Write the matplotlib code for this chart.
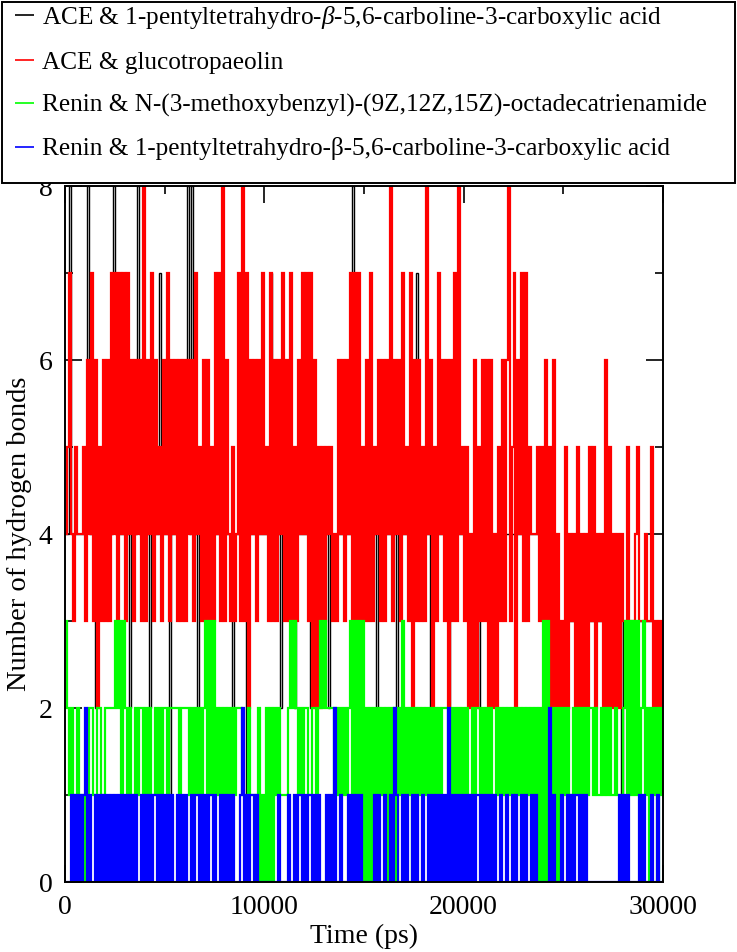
import numpy as np
import matplotlib
matplotlib.use("Agg")
import matplotlib.pyplot as plt
from matplotlib.ticker import MultipleLocator
from matplotlib.patches import Rectangle

plt.rcParams['font.family'] = ['Liberation Serif', 'DejaVu Serif']
plt.rcParams['mathtext.fontset'] = 'custom'
plt.rcParams['mathtext.rm'] = 'Liberation Serif'
plt.rcParams['mathtext.it'] = 'Liberation Serif:italic'

# ---- data: hydrogen-bond counts sampled every 100 ps (0 .. 30000 ps) ----
frame_step_ps = 100

ace_pentyl = (
    "4484444444" "4844424444" "4444844444" "4424448444" "4424444744"
    "4414444444" "4848442444" "4444444444" "4444244444" "4144444444"
    "4447444424" "4444424444" "4442444444" "4424444444" "4444844444"
    "4444442444" "4444442444" "4444447444" "4442444444" "4424444444"
    "4444444244" "4444444444" "4444444444" "4444444444" "4444433333"
    "3333333333" "3333333333" "3333333331" "3333333333" "3333333333" "3"
)

ace_glucotropaeolin = (
    "4574354445" "3647362536" "3637473747" "3746364638" "3647364536"
    "4736463636" "3646374536" "3635374738" "3643534738" "3726463647"
    "4537363647" "3637353647" "4737262525" "3545343646" "3647373735"
    "3637354636" "3648364637" "4537263635" "3846253746" "3626373845"
    "3524262536" "3626242536" "3683572647" "3735444535" "3635262423"
    "2524342524" "2425352434" "2625242424" "3353334533" "3433523232" "3"
)

renin_methoxybenzyl = (
    "3212012110" "1122112211" "2222232313" "2121121221" "2121121212"
    "2122222122" "2212121212" "3131312121" "2121212221" "1121111201"
    "0202021211" "1123232121" "2211221232" "3222212121" "2123131313"
    "0202021212" "1202120213" "1212021212" "1212121212" "2212121212"
    "1211212212" "1212112121" "2121212121" "2121212020" "3031202021"
    "2121121212" "1212212112" "1212112111" "2313131312" "3120212021" "2"
)

renin_pentyl = (
    "0001010101" "2010010101" "0101010101" "0101010010" "1010110101"
    "0101001010" "1001011010" "1011010010" "1010100012" "0101101000"
    "0000000100" "0010010110" "1011010100" "0101020010" "0010101010"
    "0000010100" "1001021001" "0100101001" "0010101010" "1020101010"
    "1010101101" "0101010010" "0100101001" "0100101000" "0002010001"
    "0010101101" "0100000000" "0000000010" "1010000010" "1000100100" "0"
)

series_labels = [
    "ACE & 1-pentyltetrahydro-$\\mathit{\\beta}$-5,6-carboline-3-carboxylic acid",
    "ACE & glucotropaeolin",
    "Renin & N-(3-methoxybenzyl)-(9Z,12Z,15Z)-octadecatrienamide",
    "Renin & 1-pentyltetrahydro-\u03b2-5,6-carboline-3-carboxylic acid",
]
series_data = [ace_pentyl, ace_glucotropaeolin, renin_methoxybenzyl, renin_pentyl]
series_colors = ["#000000", "#ff0000", "#00ff00", "#0000ff"]
series_widths = [1.0, 1.6, 1.6, 1.6]

x_ticks = [0, 10000, 20000, 30000]
y_ticks = [0, 2, 4, 6, 8]

# ---- figure ----
W, H = 737, 952
fig = plt.figure(figsize=(W / 100, H / 100), dpi=100)
ax = fig.add_axes([65 / W, (H - 882) / H, 598 / W, 696 / H])

lines = []
for s, c, lw, lab in zip(series_data, series_colors, series_widths, series_labels):
    vals = np.array([int(ch) for ch in s], dtype=float)
    t = np.arange(len(vals)) * frame_step_ps
    ln, = ax.plot(t, vals, color=c, lw=lw, label=lab, drawstyle='steps-post',
                  solid_joinstyle='miter', solid_capstyle='butt')
    lines.append(ln)

ax.set_xlim(0, 30000)
ax.set_ylim(0, 8)
ax.set_xticks(x_ticks)
ax.set_yticks(y_ticks)
ax.xaxis.set_minor_locator(MultipleLocator(5000))
ax.yaxis.set_minor_locator(MultipleLocator(1))
ax.tick_params(which='both', direction='in', top=True, right=True,
               width=1.2, labelsize=20, colors='black')
ax.tick_params(axis='y', which='major', length=12, pad=9)
ax.tick_params(axis='x', which='major', length=12, pad=9)
ax.tick_params(which='minor', length=6)
for sp in ax.spines.values():
    sp.set_linewidth(1.4)
    sp.set_zorder(5)

ax.set_xlabel("Time (ps)", fontsize=20, labelpad=3)
ax.set_ylabel("Number of hydrogen bonds", fontsize=20.5, labelpad=5)

# legend box (white, drawn over the top of the plot like the original)
fig.patches.append(Rectangle((2 / W, 1 - 183 / H), 733 / W, 181 / H,
                             transform=fig.transFigure, facecolor='white',
                             edgecolor='black', linewidth=1.4, zorder=10))
leg = fig.legend(handles=lines, loc='upper left',
                 bbox_to_anchor=(15 / W, 1 - 4 / H),
                 fontsize=18.2, frameon=False,
                 handlelength=0.77, handletextpad=0.28, labelspacing=0.80,
                 borderpad=0.0, borderaxespad=0.0)
leg.set_zorder(11)
for hl in leg.get_lines():
    hl.set_linewidth(1.2)

fig.savefig("out.png", dpi=100)
